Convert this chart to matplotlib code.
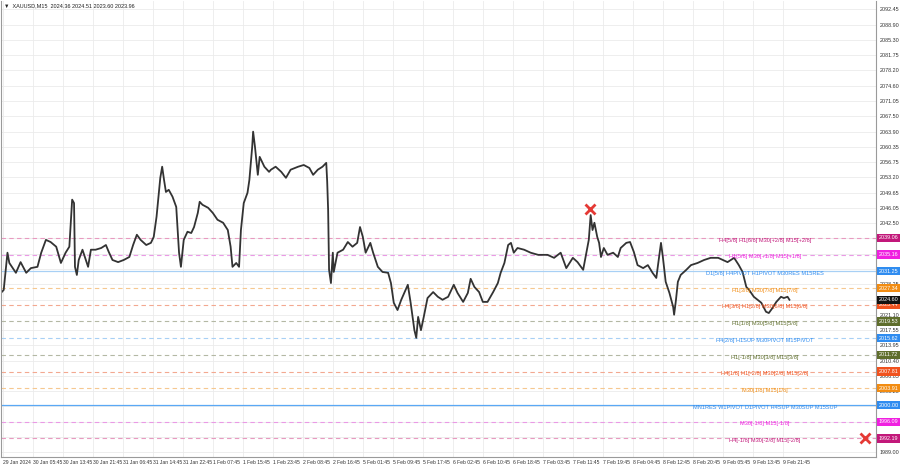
import matplotlib
matplotlib.use("Agg")
import matplotlib.pyplot as plt
import matplotlib.transforms as mtransforms

plt.rcParams["font.family"] = ["Liberation Sans", "DejaVu Sans"]

# ── Data ──────────────────────────────────────────────────────────────────────
# price path (M15 bar index, price)
bar_idx = [0, 3, 7, 9, 16, 21, 27, 32, 39, 43, 48, 53, 59, 64, 69, 73, 76, 78, 79, 81,
           83, 87, 93, 96, 101, 107, 112, 115, 119, 125, 131, 137, 141, 145, 149, 155, 160,
           163, 166, 170, 172, 174, 176, 179, 183, 187, 190, 192, 195, 199, 203, 206, 210,
           212, 215, 221, 226, 231, 237, 242, 245, 247, 251, 254, 256, 259, 263, 265, 268,
           269, 271, 274, 276, 281, 286, 288, 293, 299, 304, 309, 317, 323, 329, 333, 338,
           343, 347, 348, 349, 350, 352, 354, 355, 359, 365, 370, 375, 380, 383, 386, 389,
           394, 397, 402, 407, 413, 416, 419, 423, 427, 434, 437, 441, 443, 445, 448, 451,
           455, 461, 466, 471, 477, 483, 487, 493, 498, 501, 505, 510, 514, 519, 525, 530,
           533, 537, 541, 544, 547, 551, 558, 565, 573, 576, 583, 590, 597, 603, 610, 615,
           621, 624, 627, 629, 631, 633, 636, 638, 640, 643, 647, 653, 658, 661, 667, 671,
           675, 679, 685, 690, 695, 699, 702, 704, 706, 709, 713, 717, 718, 720, 722, 725,
           731, 736, 743, 750, 757, 765, 770, 775, 782, 787, 791, 795, 798, 803, 811, 816,
           819, 823, 827, 832, 835, 839, 841]
price = [2026.2, 2026.9, 2035.6, 2033.2, 2030.9, 2033.4, 2030.9, 2032.0, 2032.3, 2035.6,
         2038.6, 2038.1, 2037.0, 2033.2, 2035.6, 2037.0, 2048.0, 2047.2, 2032.3, 2030.4,
         2033.9, 2036.3, 2032.3, 2036.3, 2036.3, 2036.7, 2037.4, 2035.8, 2033.9, 2033.4,
         2033.9, 2034.6, 2037.4, 2039.8, 2038.6, 2037.4, 2037.9, 2039.3, 2044.0, 2053.1,
         2055.7, 2052.6, 2049.8, 2050.3, 2048.7, 2046.3, 2035.6, 2032.3, 2038.6, 2040.5,
         2040.2, 2041.6, 2044.9, 2047.5, 2046.8, 2046.1, 2044.9, 2043.3, 2042.6, 2040.9,
         2037.0, 2032.3, 2033.2, 2032.3, 2040.9, 2047.2, 2049.6, 2052.6, 2060.3, 2063.9,
         2060.3, 2053.8, 2058.0, 2055.7, 2054.5, 2055.0, 2055.7, 2054.5, 2053.1, 2055.0,
         2055.7, 2056.1, 2055.4, 2053.8, 2055.0, 2055.7, 2056.6, 2052.2, 2045.6, 2031.6,
         2028.5, 2035.6, 2031.1, 2035.6, 2036.3, 2038.1, 2037.0, 2037.9, 2041.6, 2039.3,
         2035.6, 2037.9, 2035.6, 2032.3, 2031.1, 2030.9, 2028.5, 2023.9, 2022.2, 2024.6,
         2028.1, 2023.9, 2017.5, 2015.7, 2020.6, 2017.5, 2020.6, 2025.0, 2026.4, 2025.3,
         2024.6, 2025.3, 2028.1, 2026.2, 2024.1, 2026.2, 2029.5, 2027.6, 2026.4, 2024.1,
         2024.1, 2026.4, 2028.5, 2030.9, 2033.2, 2037.4, 2037.9, 2035.6, 2036.7, 2036.3,
         2035.6, 2035.1, 2035.1, 2035.1, 2034.4, 2035.6, 2032.0, 2034.4, 2033.4, 2031.6,
         2035.1, 2038.6, 2044.4, 2040.9, 2042.6, 2039.3, 2037.9, 2034.6, 2036.7, 2035.1,
         2035.6, 2034.6, 2036.7, 2037.9, 2038.1, 2035.8, 2032.7, 2032.0, 2032.7, 2030.9,
         2029.7, 2034.6, 2037.9, 2034.6, 2028.8, 2026.2, 2022.9, 2021.1, 2024.6, 2028.8,
         2030.4, 2031.6, 2032.7, 2033.2, 2033.9, 2034.4, 2034.4, 2033.9, 2033.4, 2034.4,
         2032.7, 2031.1, 2027.6, 2026.9, 2025.3, 2023.9, 2021.8, 2021.5, 2022.7, 2024.1,
         2025.3, 2025.0, 2025.3, 2024.6]

time_labels = ["29 Jan 2024", "30 Jan 05:45", "30 Jan 13:45", "30 Jan 21:45", "31 Jan 06:45",
               "31 Jan 14:45", "31 Jan 22:45", "1 Feb 07:45", "1 Feb 15:45", "1 Feb 23:45",
               "2 Feb 08:45", "2 Feb 16:45", "5 Feb 01:45", "5 Feb 09:45", "5 Feb 17:45",
               "6 Feb 02:45", "6 Feb 10:45", "6 Feb 18:45", "7 Feb 03:45", "7 Feb 11:45",
               "7 Feb 19:45", "8 Feb 04:45", "8 Feb 12:45", "8 Feb 20:45", "9 Feb 05:45",
               "9 Feb 13:45", "9 Feb 21:45"]
time_ticks = [2 + 32 * i for i in range(len(time_labels))]

price_ticks = [2092.45, 2088.90, 2085.30, 2081.75, 2078.20, 2074.60, 2071.05, 2067.50,
               2063.90, 2060.35, 2056.75, 2053.20, 2049.65, 2046.05, 2042.50, 2038.95,
               2035.35, 2031.80, 2028.25, 2024.65, 2021.10, 2017.55, 2013.95, 2010.40,
               2006.85, 2003.25, 1999.70, 1996.10, 1992.55, 1989.00]

# Murrey math levels
level_price = [2039.06, 2035.16, 2031.25, 2027.34, 2023.44, 2019.53, 2015.62, 2011.72,
               2007.81, 2003.91, 2000.00, 1996.09, 1992.19]
level_text = ["H4[5/8] H1[6/8] M30[+2/8] M15[+2/8]",
              "H1[5/8] M30[+1/8] M15[+1/8]",
              "D1[5/8] H4PIVOT H1PIVOT M30RES M15RES",
              "H1[3/8] M30[7/8] M15[7/8]",
              "H4[3/8] H1[2/8] M30[6/8] M15[6/8]",
              "H1[1/8] M30[5/8] M15[5/8]",
              "H4[2/8] H1SUP M30PIVOT M15PIVOT",
              "H1[-1/8] M30[3/8] M15[3/8]",
              "H4[1/8] H1[-2/8] M30[2/8] M15[2/8]",
              "M30[1/8] M15[1/8]",
              "MN1RES W1PIVOT D1PIVOT H4SUP M30SUP M15SUP",
              "M30[-1/8] M15[-1/8]",
              "H4[-1/8] M30[-2/8] M15[-2/8]"]
level_color = ["#c2187a", "#f020e0", "#2f8cf0", "#f28c12", "#f0521e", "#5f6e2c", "#2f8cf0",
               "#5f6e2c", "#f0521e", "#f28c12", "#2f8cf0", "#f020e0", "#c2187a"]
line_color = ["#e89ac0", "#ea9ae6", "#a8d0f5", "#f6c890", "#f3a890", "#b4b8a4", "#a8d0f5",
              "#b4b8a4", "#f3a890", "#f6c890", "#5aa8f5", "#ea9ae6", "#e89ac0"]
line_solid = [False, False, True, False, False, False, False, False, False, False, True,
              False, False]

cross_bar = [628, 922]
cross_price = [2045.8, 1992.3]

# ── Plot ──────────────────────────────────────────────────────────────────────
fig = plt.figure(figsize=(9, 4.68), dpi=100)
ax = fig.add_axes([0.001, 0.0235, 0.972, 0.975])
ax.set_xlim(0, 933)
ax.set_ylim(1987.85, 2094.5)

ax.set_yticks(price_ticks)
ax.set_yticklabels([f"{v:.2f}" for v in price_ticks])
ax.yaxis.tick_right()
ax.set_xticks(time_ticks)
ax.set_xticklabels(time_labels)
for lab in ax.get_xticklabels():
    lab.set_horizontalalignment("left")
ax.tick_params(axis="both", labelsize=3.9, colors="#333333", length=0, pad=2)
ax.tick_params(axis="x", labelsize=3.6)
ax.tick_params(axis="y", pad=3)
ax.grid(True, color="#ebebeb", linewidth=0.6)
ax.set_axisbelow(True)
ax.spines["top"].set_visible(False)
for side in ["left", "right", "bottom"]:
    ax.spines[side].set_color("#9a9a9a")
    ax.spines[side].set_linewidth(0.8)

# level lines and their labels
for lp, txt, c, lc, solid in zip(level_price, level_text, level_color, line_color, line_solid):
    ax.axhline(lp, color=lc, linewidth=0.9 if solid else 0.8,
               linestyle="-" if solid else (0, (4, 3)), zorder=1)
    ax.annotate(txt, (815, lp), xytext=(0, -1.6), textcoords="offset points",
                ha="center", va="center", fontsize=4.1, color=c, zorder=3)

# price
ax.plot(bar_idx, price, color="#333333", linewidth=1.3, zorder=2)

# crosses
ax.plot(cross_bar, cross_price, linestyle="none", marker="x", color="#e53935",
        markersize=7, markeredgewidth=2, zorder=4, clip_on=False)

# right-axis price boxes
trans = mtransforms.blended_transform_factory(ax.transAxes, ax.transData)
box_price = level_price + [price[-1]]
box_color = level_color + ["#111111"]
for bp, c in zip(box_price, box_color):
    ax.text(1.0035, bp, f"{bp:.2f}", transform=trans, fontsize=3.9, color="white",
            ha="left", va="center", clip_on=False, zorder=5,
            bbox=dict(boxstyle="square,pad=0.3", fc=c, ec="none"))

# header
ax.text(0.004, 0.994, "\u25bc  XAUUSD,M15  2024.36 2024.51 2023.60 2023.96",
        transform=ax.transAxes, fontsize=4.0, color="#222222", ha="left", va="top")

plt.savefig("out.png", dpi=100)
